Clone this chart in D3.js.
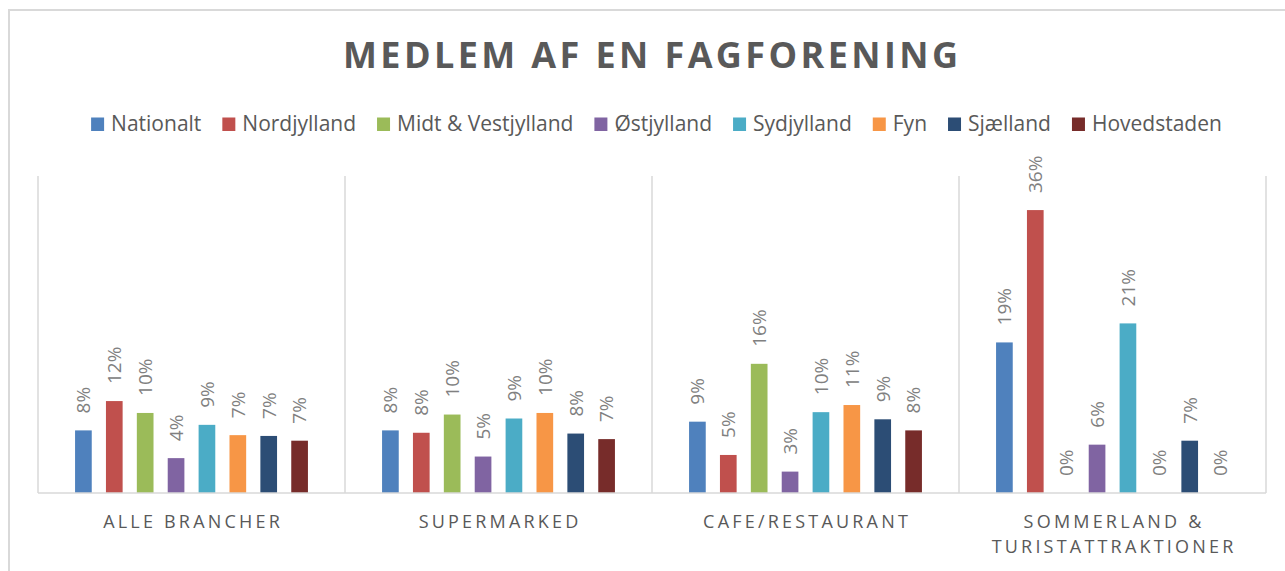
<!DOCTYPE html>
<html>
<head>
<meta charset="utf-8">
<script src="https://cdn.jsdelivr.net/npm/d3@7"></script>
<style>
  html, body { margin: 0; padding: 0; background: #fff; }
  svg { display: block; font-family: "Open Sans", sans-serif; }
</style>
</head>
<body>
<svg id="chart" width="1285" height="571"></svg>
<script>
// Branche-kategorier (x-akse)
const categories = ["ALLE BRANCHER", "SUPERMARKED", "CAFE/RESTAURANT", "SOMMERLAND & TURISTATTRAKTIONER"];

// Regioner (serier) og deres farver
const seriesNames = ["Nationalt", "Nordjylland", "Midt & Vestjylland", "Østjylland", "Sydjylland", "Fyn", "Sjælland", "Hovedstaden"];
const seriesColors = ["#4f81bd", "#c0504d", "#9bbb59", "#8064a2", "#4bacc6", "#f79646", "#2c4d75", "#772c2a"];

// Andel medlem af en fagforening (%), én værdi pr. kategori
const nationalt   = [7.9, 7.9, 9.0, 19.0];
const nordjylland = [11.6, 7.6, 4.8, 35.7];
const midtVest    = [10.1, 9.9, 16.3, 0];
const ostjylland  = [4.4, 4.6, 2.7, 6.1];
const sydjylland  = [8.6, 9.4, 10.2, 21.4];
const fyn         = [7.3, 10.1, 11.1, 0];
const sjaelland   = [7.2, 7.5, 9.3, 6.6];
const hovedstaden = [6.6, 6.8, 7.9, 0];

const seriesValues = [nationalt, nordjylland, midtVest, ostjylland, sydjylland, fyn, sjaelland, hovedstaden];

// Aksens ramme
const yDomain = [0, 40];

const svg = d3.select("#chart");
const W = 1285, H = 571;
const plot = { left: 38, right: 1266, top: 176, bottom: 493 };

// Ydre ramme
svg.append("rect")
  .attr("x", 9).attr("y", 10)
  .attr("width", W + 10).attr("height", H + 10)
  .attr("fill", "#fff")
  .attr("stroke", "#d9d9d9").attr("stroke-width", 2);

// Titel
svg.append("text")
  .attr("x", 650.5).attr("y", 68)
  .attr("text-anchor", "middle")
  .attr("font-size", 36).attr("font-weight", 700)
  .attr("fill", "#595959")
  .attr("textLength", 615).attr("lengthAdjust", "spacing")
  .text("MEDLEM AF EN FAGFORENING");

// Signaturforklaring
const legend = svg.append("g");
let lx = 0;
seriesNames.forEach((name, i) => {
  const g = legend.append("g").attr("transform", `translate(${lx},0)`);
  g.append("rect").attr("x", 0).attr("y", -13.5).attr("width", 13).attr("height", 13.5).attr("fill", seriesColors[i]);
  const t = g.append("text").attr("x", 20).attr("y", 0)
    .attr("font-size", 21).attr("fill", "#595959").text(name);
  lx += 20 + t.node().getComputedTextLength() + 21;
});
const legendWidth = lx - 21;
legend.attr("transform", `translate(${656.5 - legendWidth / 2},131)`);

// Skalaer
const x0 = d3.scaleBand().domain(categories).range([plot.left, plot.right]).padding(0);
const x1 = d3.scaleBand().domain(seriesNames).range([0, x0.bandwidth()])
  .paddingInner(0.46).paddingOuter(1.2);
const y = d3.scaleLinear().domain(yDomain).range([plot.bottom, plot.top]);

// Lodrette skillelinjer mellem kategorier
const bounds = categories.map(c => x0(c)).concat([plot.right]);
svg.append("g").selectAll("line").data(bounds).join("line")
  .attr("x1", d => d).attr("x2", d => d)
  .attr("y1", plot.top).attr("y2", plot.bottom)
  .attr("stroke", "#d9d9d9").attr("stroke-width", 1.5);

// Søjler og dataetiketter
const groups = svg.append("g").selectAll("g").data(categories).join("g")
  .attr("transform", c => `translate(${x0(c)},0)`);

groups.each(function (c, ci) {
  const g = d3.select(this);
  const rows = seriesNames.map((s, si) => ({ s, si, v: seriesValues[si][ci] }));
  g.selectAll("rect").data(rows).join("rect")
    .attr("x", d => x1(d.s))
    .attr("width", x1.bandwidth())
    .attr("y", d => y(d.v))
    .attr("height", d => y(0) - y(d.v))
    .attr("fill", d => seriesColors[d.si]);
  g.selectAll("text").data(rows).join("text")
    .attr("transform", d => `translate(${x1(d.s) + x1.bandwidth() / 2},${y(d.v) - 17}) rotate(-90)`)
    .attr("dy", "0.36em")
    .attr("font-size", 19)
    .attr("fill", "#808080")
    .text(d => Math.round(d.v) + "%");
});

// Grundlinje
svg.append("line")
  .attr("x1", plot.left).attr("x2", plot.right)
  .attr("y1", plot.bottom).attr("y2", plot.bottom)
  .attr("stroke", "#d9d9d9").attr("stroke-width", 1.5);

// Kategorietiketter (med ombrydning)
const labelLines = { "SOMMERLAND & TURISTATTRAKTIONER": ["SOMMERLAND &", "TURISTATTRAKTIONER"] };
const catLabels = svg.append("g");
categories.forEach(c => {
  const lines = labelLines[c] || [c];
  const t = catLabels.append("text")
    .attr("text-anchor", "middle")
    .attr("font-size", 18)
    .attr("letter-spacing", 3.2)
    .attr("fill", "#595959");
  lines.forEach((ln, i) => {
    t.append("tspan")
      .attr("x", x0(c) + x0.bandwidth() / 2 + 1.6)
      .attr("y", 528 + i * 25)
      .text(ln);
  });
});
</script>
</body>
</html>
